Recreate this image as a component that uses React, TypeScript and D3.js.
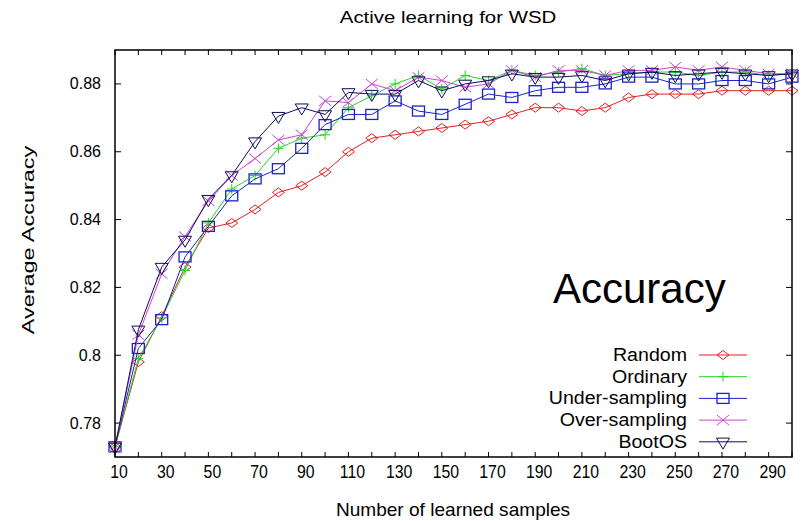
import React from 'react';
import * as d3 from 'd3';

// x positions (number of learned samples)
const samples = [10, 20, 30, 40, 50, 60, 70, 80, 90, 100, 110, 120, 130, 140, 150,
  160, 170, 180, 190, 200, 210, 220, 230, 240, 250, 260, 270, 280, 290, 300];

const randomAcc = [0.773, 0.798, 0.8115, 0.826, 0.8375, 0.839, 0.843, 0.848, 0.85, 0.854,
  0.86, 0.864, 0.865, 0.866, 0.867, 0.868, 0.869, 0.871, 0.873, 0.873,
  0.872, 0.873, 0.876, 0.877, 0.877, 0.877, 0.878, 0.878, 0.878, 0.878];
const ordinaryAcc = [0.773, 0.799, 0.811, 0.825, 0.839, 0.849, 0.853, 0.861, 0.864, 0.865,
  0.873, 0.8765, 0.88, 0.8825, 0.8785, 0.8825, 0.881, 0.884, 0.8825, 0.8835,
  0.8845, 0.8825, 0.883, 0.8835, 0.8835, 0.8825, 0.8835, 0.8835, 0.8825, 0.883];
const underAcc = [0.773, 0.802, 0.8105, 0.829, 0.838, 0.847, 0.852, 0.855, 0.861, 0.868,
  0.871, 0.871, 0.875, 0.872, 0.871, 0.874, 0.877, 0.876, 0.878, 0.879,
  0.879, 0.88, 0.882, 0.882, 0.88, 0.88, 0.881, 0.881, 0.88, 0.882];
const overAcc = [0.773, 0.806, 0.824, 0.835, 0.8455, 0.853, 0.858, 0.8635, 0.865, 0.875,
  0.8745, 0.88, 0.878, 0.882, 0.881, 0.879, 0.88, 0.884, 0.882, 0.884,
  0.884, 0.8825, 0.884, 0.884, 0.885, 0.884, 0.885, 0.884, 0.883, 0.883];
const bootAcc = [0.773, 0.8075, 0.826, 0.834, 0.846, 0.853, 0.863, 0.8705, 0.873, 0.871,
  0.8775, 0.877, 0.877, 0.881, 0.878, 0.88, 0.881, 0.883, 0.882, 0.882,
  0.8825, 0.881, 0.883, 0.8835, 0.8825, 0.883, 0.8835, 0.883, 0.8825, 0.883];

const xTickLabels = [10, 30, 50, 70, 90, 110, 130, 150, 170, 190, 210, 230, 250, 270, 290];
const yTicks = [0.78, 0.8, 0.82, 0.84, 0.86, 0.88];
const yTickLabels = ['0.78', '0.8', '0.82', '0.84', '0.86', '0.88'];

const series = [
  { name: 'Random', values: randomAcc, color: '#e3201e', marker: 'diamond' },
  { name: 'Ordinary', values: ordinaryAcc, color: '#22d822', marker: 'plus' },
  { name: 'Under-sampling', values: underAcc, color: '#1b22c8', marker: 'square' },
  { name: 'Over-sampling', values: overAcc, color: '#d040d4', marker: 'cross' },
  { name: 'BootOS', values: bootAcc, color: '#0c0c5c', marker: 'tri' },
];

const W = 808;
const H = 521;
const left = 115, right = 792, top = 50, bottom = 457;
const font = '"Liberation Sans", Arial, sans-serif';

const Marker = ({ kind, cx, cy, color }) => {
  const p = { fill: 'none', stroke: color, strokeWidth: 1 };
  if (kind === 'diamond')
    return <path d={`M${cx - 6},${cy}L${cx},${cy - 4.5}L${cx + 6},${cy}L${cx},${cy + 4.5}Z`} {...p} />;
  if (kind === 'plus')
    return <path d={`M${cx - 5},${cy}H${cx + 5}M${cx},${cy - 5}V${cy + 5}`} {...p} />;
  if (kind === 'square')
    return <rect x={cx - 6} y={cy - 5} width={12} height={10} {...p} strokeWidth={1.3} />;
  if (kind === 'cross')
    return <path d={`M${cx - 6},${cy - 5}L${cx + 6},${cy + 5}M${cx - 6},${cy + 5}L${cx + 6},${cy - 5}`} {...p} />;
  // downward triangle, centroid on the point
  return <path d={`M${cx - 6.5},${cy - 3.7}H${cx + 6.5}L${cx},${cy + 7.3}Z`} {...p} />;
};

export default function App() {
  const x = d3.scaleLinear().domain([10, 300]).range([left, right]);
  const y = d3.scaleLinear().domain([0.77, 0.89]).range([bottom, top]);
  const line = d3.line<number>().x((_, i) => x(samples[i])).y((d) => y(d));

  const legendX = 687;
  const legendY0 = 355;
  const legendStep = 21.7;

  return (
    <svg width={W} height={H} style={{ position: 'absolute', left: 0, top: 0, background: '#fff' }}
      fontFamily={font}>
      <rect width={W} height={H} fill="#fff" />
      <g transform="translate(448,23) scale(1.2,1)">
        <text textAnchor="middle" fontSize={17}>Active learning for WSD</text>
      </g>

      {/* ticks */}
      {samples.map((s) => (
        <g key={'xt' + s} stroke="#000" strokeWidth={1}>
          <line x1={x(s)} x2={x(s)} y1={bottom} y2={bottom - 5} />
          <line x1={x(s)} x2={x(s)} y1={top} y2={top + 5} />
        </g>
      ))}
      {yTicks.map((t) => (
        <g key={'yt' + t} stroke="#000" strokeWidth={1}>
          <line x1={left} x2={left + 6} y1={y(t)} y2={y(t)} />
          <line x1={right} x2={right - 6} y1={y(t)} y2={y(t)} />
        </g>
      ))}
      {xTickLabels.map((t) => (
        <g key={'xl' + t} transform={`translate(${x(t) + 4},478) scale(0.88,1)`}>
          <text textAnchor="middle" fontSize={18}>{t}</text>
        </g>
      ))}
      {yTicks.map((t, i) => (
        <text key={'yl' + t} x={101} y={y(t) + 5.5} textAnchor="end" fontSize={16}>{yTickLabels[i]}</text>
      ))}

      {/* series */}
      {series.map((s) => (
        <g key={s.name}>
          <path d={line(s.values) || ''} fill="none" stroke={s.color} strokeWidth={1} />
          {s.values.map((v, i) => (
            <Marker key={i} kind={s.marker} cx={x(samples[i])} cy={y(v)} color={s.color} />
          ))}
        </g>
      ))}

      <rect x={left} y={top} width={right - left} height={bottom - top} fill="none" stroke="#000" strokeWidth={1.5} />

      <text x={553} y={303} fontSize={42}>Accuracy</text>

      {/* legend */}
      {series.map((s, i) => {
        const ly = legendY0 + i * legendStep;
        return (
          <g key={'lg' + s.name}>
            <g transform={`translate(${legendX},${ly + 6}) scale(1.12,1)`}>
              <text textAnchor="end" fontSize={17.5}>{s.name}</text>
            </g>
            <line x1={699} x2={747} y1={ly} y2={ly} stroke={s.color} strokeWidth={1} />
            <Marker kind={s.marker} cx={723} cy={ly} color={s.color} />
          </g>
        );
      })}

      <g transform="translate(453,516) scale(1.09,1)">
        <text textAnchor="middle" fontSize={17.5}>Number of learned samples</text>
      </g>
      <g transform="translate(34,240) rotate(-90) scale(1.38,1)">
        <text textAnchor="middle" fontSize={17}>Average Accuracy</text>
      </g>
    </svg>
  );
}
